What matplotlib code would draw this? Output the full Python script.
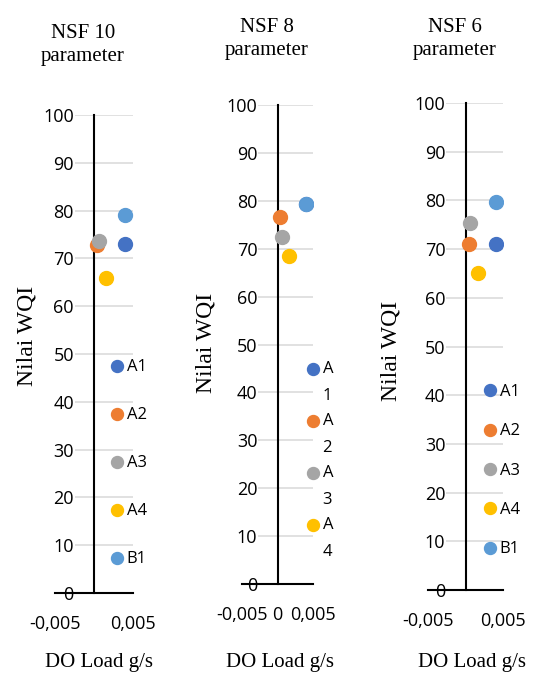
import numpy as np
import matplotlib
matplotlib.use("Agg")
import matplotlib.pyplot as plt

W, H = 533, 677

# datos
sitios = ["A1", "A2", "A3", "A4", "B1"]
colores = ["#4472C4", "#ED7D31", "#A5A5A5", "#FFC000", "#5B9BD5"]
do_load = [0.004, 0.0004, 0.0006, 0.0016, 0.004]

wqi_nsf10 = [73.1, 72.7, 73.7, 65.9, 79.1]
wqi_nsf8 = [79.3, 76.7, 72.4, 68.5, 79.3]
wqi_nsf6 = [71.0, 71.0, 75.3, 65.0, 79.7]

titulos = ["NSF 10\nparameter", "NSF 8\nparameter", "NSF 6\nparameter"]
y_ticks = [0, 10, 20, 30, 40, 50, 60, 70, 80, 90, 100]
x_ticks_a = [-0.005, 0.005]
x_labels_a = ["-0,005", "0,005"]
x_ticks_b = [-0.005, 0, 0.005]
x_labels_b = ["-0,005", "0", "0,005"]
leyenda_nsf8 = ["A\n1", "A\n2", "A\n3", "A\n4"]

SANS = "Open Sans"
SERIF = "Liberation Serif"


def fig_xy(x, y):
    return x / W, 1 - y / H


def panel(fig, rect, valores, xt, xl):
    l, t, r, b = rect
    ax = fig.add_axes([l / W, 1 - b / H, (r - l) / W, (b - t) / H])
    for s, c, xv, yv in zip(sitios, colores, do_load, valores):
        ax.plot(xv, yv, 'o', color=c, markersize=10, label=s,
                linestyle='none', zorder=3)
    ax.set_xlim(-0.005, 0.005)
    ax.set_ylim(0, 100)
    ax.set_axisbelow(True)
    ax.spines['left'].set_position(('data', 0))
    ax.spines['top'].set_visible(False)
    ax.spines['right'].set_visible(False)
    ax.spines['left'].set_linewidth(1.5)
    ax.spines['bottom'].set_linewidth(1.5)
    ax.set_yticks(y_ticks)
    ax.set_xticks(xt)
    ax.set_xticklabels(xl)
    ax.tick_params(axis='y', length=0, pad=14.5, labelsize=13)
    ax.tick_params(axis='x', length=0, pad=16, labelsize=13)
    for lab in ax.get_yticklabels() + ax.get_xticklabels():
        lab.set_fontfamily(SANS)
    for lab in ax.get_yticklabels():
        lab.set_bbox(dict(facecolor='white', edgecolor='none', pad=0.5))
    ax.yaxis.grid(True, color='#D9D9D9', linewidth=1.1)
    ax.set_facecolor('none')
    return ax


fig = plt.figure(figsize=(W / 100, H / 100), dpi=100)

ax1 = panel(fig, (55, 115, 133, 593), wqi_nsf10, x_ticks_a, x_labels_a)
ax2 = panel(fig, (242, 105, 313, 584), wqi_nsf8, x_ticks_b, x_labels_b)
ax3 = panel(fig, (428, 103, 503, 590), wqi_nsf6, x_ticks_a, x_labels_a)

# leyendas
leg1 = ax1.legend(loc='center left', bbox_to_anchor=(0.726, 0.271), frameon=False,
                  prop={'family': SANS, 'size': 12}, handlelength=0.6,
                  handletextpad=0.3, borderpad=0, borderaxespad=0,
                  labelspacing=1.92, markerscale=0.86)
leg3 = ax3.legend(loc='center left', bbox_to_anchor=(0.755, 0.245), frameon=False,
                  prop={'family': SANS, 'size': 12}, handlelength=0.6,
                  handletextpad=0.3, borderpad=0, borderaxespad=0,
                  labelspacing=1.4, markerscale=0.86)
h2 = ax2.get_lines()[:4]
leg2 = ax2.legend(h2, leyenda_nsf8, loc='center left', bbox_to_anchor=(0.924, 0.258),
                  frameon=False, prop={'family': SANS, 'size': 12}, handlelength=0.6,
                  handletextpad=0.3, borderpad=0, borderaxespad=0,
                  labelspacing=0.55, markerscale=0.86)
for t in leg2.get_texts():
    t.set_linespacing(1.9)
for hl in leg2.legend_handles:
    hl.set_ydata(np.asarray(hl.get_ydata()) + 10)

# textos
for (cx, cy), tit in zip([(83, 45), (267, 39), (455, 39)], titulos):
    fig.text(*fig_xy(cx, cy), tit, ha='center', va='center', family=SERIF,
             fontsize=15, linespacing=1.3)
for cx, cy in [(27, 336), (206, 343), (391, 351)]:
    fig.text(*fig_xy(cx, cy), "Nilai WQI", ha='center', va='center', family=SERIF,
             fontsize=17, rotation=90)
for cx, cy in [(99, 663), (280, 662), (472, 663)]:
    fig.text(*fig_xy(cx, cy), "DO Load g/s", ha='center', va='center', family=SERIF,
             fontsize=15)

fig.savefig("out.png", dpi=100)
